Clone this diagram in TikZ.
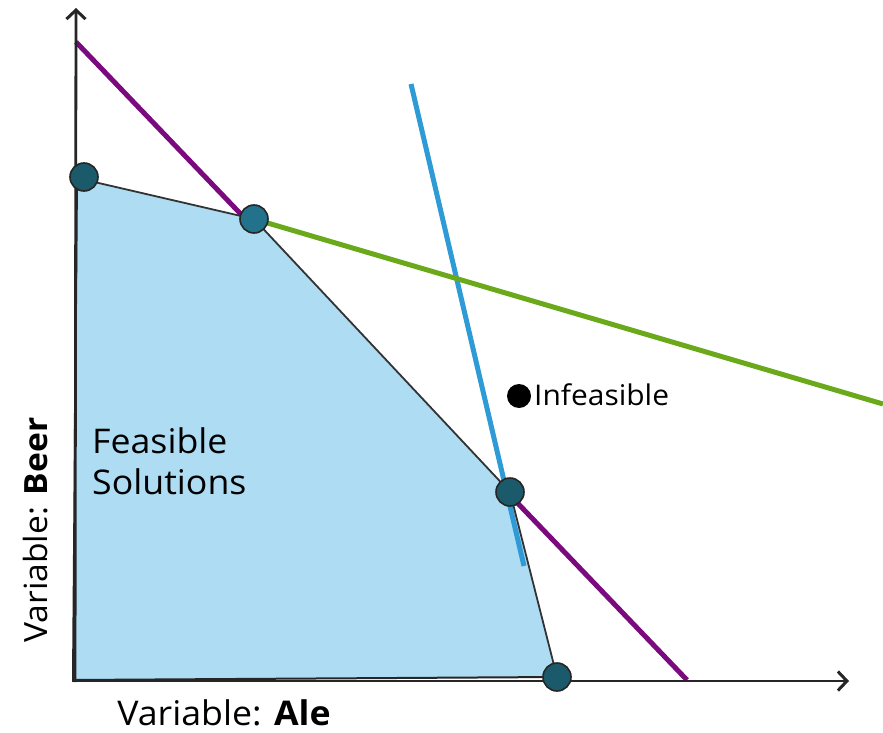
\documentclass[tikz,border=0pt]{standalone}
\usepackage{fontspec}
\setmainfont{Open Sans}[FakeStretch=1.05]
\usetikzlibrary{arrows.meta}
\definecolor{feasfill}{HTML}{ADDCF3}
\definecolor{nodeteal}{HTML}{1A5A6A}
\definecolor{nodeteal2}{HTML}{21728A}
\definecolor{purp}{HTML}{7A0A7E}
\definecolor{bluel}{HTML}{2E9AD6}
\definecolor{greenl}{HTML}{6AAA1A}
\tikzset{
  axis/.style={line width=2.8pt, draw=black!85, -{Straight Barb[length=9pt,width=19pt,line width=3pt]}},
  vertex/.style={circle, draw=black!85, line width=1.6pt, minimum size=28pt, inner sep=0pt},
  constraint/.style={line width=5pt},
  lbl/.style={inner sep=0pt},
}
\begin{document}
\begin{tikzpicture}[x=1pt,y=-1pt]
\useasboundingbox (0,0) rectangle (883,733);
% coordinates
\coordinate (p0) at (73,680);
\coordinate (p1) at (77,178);
\coordinate (c1) at (84,177);
\coordinate (p2) at (254,219);
\coordinate (p3) at (510,492);
\coordinate (p4) at (557,677);
% purple constraint (behind region)
\coordinate (pu1) at (76,42);
\coordinate (pu2) at (687,680);
\draw[constraint, purp] (pu1) -- (pu2);
% feasible region
\fill[feasfill] (p0) -- (p1) -- (p2) -- (p3) -- (p4) -- cycle;
% blue and green constraints
\coordinate (bl1) at (411,84);
\coordinate (bl2) at (524,566);
\coordinate (gr2) at (883,404);
\draw[constraint, bluel] (bl1) -- (bl2);
\draw[constraint, greenl] (p2) -- (gr2);
% region outline
\draw[black!85, line width=2pt, line join=round] (p4) -- (p0) -- (p1);
\draw[black!80, line width=1.8pt, line join=round] (p1) -- (p2) -- (p3) -- (p4);
% axes
\coordinate (ytip) at (76,8);
\coordinate (xtip) at (849,681);
\coordinate (yorg) at (75,682);
\coordinate (xorg) at (72,681);
\draw[axis] (yorg) -- (ytip);
\draw[axis] (xorg) -- (xtip);
% vertices
\node[vertex, fill=nodeteal] (v1) at (c1) {};
\node[vertex, fill=nodeteal2] (v2) at (p2) {};
\node[vertex, fill=nodeteal] (v3) at (p3) {};
\node[vertex, fill=nodeteal] (v4) at (p4) {};
% infeasible point
\node[circle, fill=black, minimum size=24pt, inner sep=0pt] (inf) at (519,396) {};
\node[lbl, anchor=base west, font=\fontsize{28.5}{34}\selectfont] (inflbl) at (534,405) {Infeasible};
% labels
\node[lbl, anchor=base west, font=\fontsize{34}{40}\selectfont] (feas1) at (92,453) {Feasible};
\node[lbl, anchor=base west, font=\fontsize{34}{40}\selectfont] (feas2) at (92,494) {Solutions};
\node[lbl, rotate=90, anchor=base, font=\fontsize{32}{38}\selectfont] (ylab) at (47,530) {Variable: \textbf{Beer}};
\node[lbl, anchor=base, font=\fontsize{34}{40}\selectfont] (xlab) at (224,725) {Variable: \textbf{Ale}};
\end{tikzpicture}
\end{document}
